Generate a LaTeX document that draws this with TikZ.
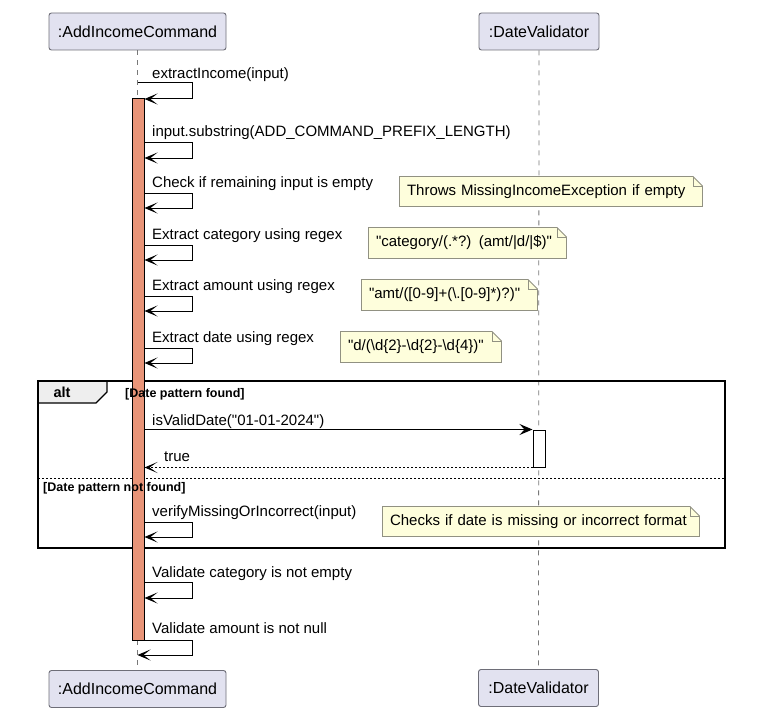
\documentclass[tikz,border=0pt]{standalone}
\usepackage{fontspec}
\setmainfont{Liberation Sans}[Ligatures=TeXOff]
\usetikzlibrary{arrows.meta}
\pgfdeclarelayer{life}
\pgfsetlayers{life,main}
\definecolor{partfill}{RGB}{226,226,240}
\definecolor{partdraw}{RGB}{110,110,120}
\definecolor{actfill}{RGB}{232,148,120}
\definecolor{notefill}{RGB}{254,254,220}
\definecolor{notedraw}{RGB}{145,145,130}
\definecolor{tabfill}{RGB}{238,238,238}
\definecolor{lifegray}{RGB}{120,120,120}
\tikzset{
  part/.style={draw=partdraw, fill=partfill, rounded corners=2.5pt, minimum width=177pt, minimum height=37pt, inner sep=0pt, line width=0.9pt, font=\fontsize{16}{19}\selectfont},
  msg/.style={anchor=base west, inner sep=0pt, font=\fontsize{15}{18}\selectfont},
  guard/.style={anchor=base west, inner sep=0pt, font=\fontsize{12.5}{14}\selectfont\bfseries},
  lifeline/.style={draw=lifegray, line width=0.8pt, dash pattern=on 5pt off 5pt},
  callarrow/.style={line width=1pt, -{Stealth[length=13pt,width=11pt,inset=7pt]}},
  syncarrow/.style={line width=1pt, -{Stealth[length=13pt,width=11pt,inset=5pt]}},
  retarrow/.style={line width=1pt, dash pattern=on 2pt off 2pt, -{Stealth[length=13pt,width=11pt,inset=8pt]}},
  note/.style={inner xsep=8pt, inner ysep=0pt, align=left, font=\fontsize{15}{18}\selectfont,
    path picture={
      \draw[notedraw, fill=notefill, line width=0.9pt]
        ([shift={(0.5pt,0.5pt)}]path picture bounding box.south west) --
        ([shift={(0.5pt,-0.5pt)}]path picture bounding box.north west) --
        ([shift={(-10pt,-0.5pt)}]path picture bounding box.north east) --
        ([shift={(-0.5pt,-10pt)}]path picture bounding box.north east) --
        ([shift={(-0.5pt,0.5pt)}]path picture bounding box.south east) -- cycle;
      \draw[notedraw, line width=0.9pt]
        ([shift={(-10pt,-0.5pt)}]path picture bounding box.north east) --
        ([shift={(-10pt,-10pt)}]path picture bounding box.north east) --
        ([shift={(-0.5pt,-10pt)}]path picture bounding box.north east);
    }},
  actbar/.style={draw=black, line width=1pt, inner sep=0pt, minimum width=12pt},
}
\begin{document}
\begin{tikzpicture}[x=1pt,y=-1pt]
\useasboundingbox (0,0) rectangle (769,725);

% participants
\node[part] (aicT) at (137.5,31.5) {:AddIncomeCommand};
\node[part, minimum width=120pt] (dvT) at (539,31.5) {:DateValidator};
\node[part] (aicB) at (137.5,689) {:AddIncomeCommand};
\node[part, minimum width=120pt] (dvB) at (538.5,688) {:DateValidator};

\begin{pgfonlayer}{life}
\draw[lifeline] (aicT.south) -- (aicB.north);
\draw[lifeline] (dvT.south) -- (dvB.north);
\end{pgfonlayer}

% alt frame
\draw[line width=1.2pt, fill=tabfill] (38,381) -- (107,381) -- (107,392) -- (96,403) -- (38,403) -- cycle;
\draw[line width=1.5pt] (38,381) rectangle (725,548);
\draw[line width=1pt, dash pattern=on 2pt off 2pt] (38,478) -- (725,478);
\node[inner sep=0pt, font=\fontsize{14.5}{16}\selectfont\bfseries] (alt) at (62,392) {alt};

% activation bars
\node[actbar, fill=actfill, minimum height=541pt] (act) at (138,369.5) {};
\node[actbar, fill=white, minimum height=37pt] (dvact) at (539,448.5) {};

% guards
\node[guard] (g1) at (125,397) {[Date pattern found]};
\node[guard] (g2) at (43,491) {[Date pattern not found]};

% self messages
\node[msg] (l1) at (152,79) {extractIncome(input)};
\draw[callarrow] (aicT.south |- 0,83) -- (192,83) -- (192,99) -- (act.east |- 0,99);

\node[msg] (l2) at (152,136) {input.substring(ADD\_COMMAND\_PREFIX\_LENGTH)};
\draw[callarrow] (act.east |- 0,142) -- (192,142) -- (192,158) -- (act.east |- 0,158);

\node[msg] (l3) at (152,187) {Check if remaining input is empty};
\draw[callarrow] (act.east |- 0,193) -- (192,193) -- (192,208) -- (act.east |- 0,208);

\node[msg] (l4) at (152,239) {Extract category using regex};
\draw[callarrow] (act.east |- 0,245) -- (192,245) -- (192,260) -- (act.east |- 0,260);

\node[msg] (l5) at (152,290) {Extract amount using regex};
\draw[callarrow] (act.east |- 0,296) -- (192,296) -- (192,311) -- (act.east |- 0,311);

\node[msg] (l6) at (152,342) {Extract date using regex};
\draw[callarrow] (act.east |- 0,348) -- (192,348) -- (192,363) -- (act.east |- 0,363);

% alt messages
\node[msg] (l7) at (152,425) {isValidDate("01-01-2024")};
\draw[syncarrow] (act.east |- dvact.north west) -- (dvact.north west);
\node[msg] (l8) at (164,461) {true};
\draw[retarrow] (dvact.south west) -- (act.east |- dvact.south west);

\node[msg] (l9) at (152,516) {verifyMissingOrIncorrect(input)};
\draw[callarrow] (act.east |- 0,522) -- (192,522) -- (192,537) -- (act.east |- 0,537);

\node[msg] (l10) at (152,577) {Validate category is not empty};
\draw[callarrow] (act.east |- 0,582) -- (192,582) -- (192,598) -- (act.east |- 0,598);

\node[msg] (l11) at (152,633) {Validate amount is not null};
\draw[callarrow] (act.east |- 0,640) -- (192,640) -- (192,655) -- (aicT.south |- 0,655);

% notes
\node[note, text width=288pt, minimum height=31pt] (n1) at (551,191.5) {Throws MissingIncomeException if empty};
\node[note, text width=183pt, minimum height=32pt] (n2) at (467.5,243) {"category/(.*?) (amt/|d/|\$)"};
\node[note, text width=161pt, minimum height=32pt] (n3) at (449.5,295) {"amt/([0-9]+(\textbackslash.[0-9]*)?)"};
\node[note, text width=146pt, minimum height=32pt] (n4) at (421,347) {"d/(\textbackslash d\{2\}-\textbackslash d\{2\}-\textbackslash d\{4\})"};
\node[note, text width=302pt, minimum height=31pt] (n5) at (541,521.5) {Checks if date is missing or incorrect format};
\end{tikzpicture}
\end{document}
